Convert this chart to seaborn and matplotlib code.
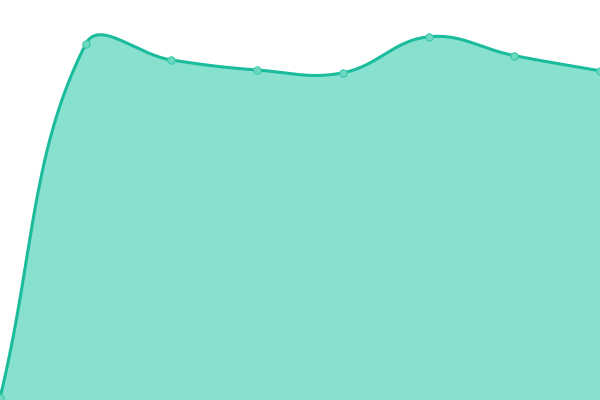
import numpy as np
import pandas as pd
import matplotlib
matplotlib.use("Agg")
import matplotlib.pyplot as plt
import seaborn as sns

labels = ["A", "B", "C", "D", "E", "F", "G", "H"]
values = [0.5, 89, 85, 82.5, 81.8, 90.8, 86.1, 82.3]

line_color = "#1abc9c"
fill_color = "#88e0cf"
point_color = "#6fd8c3"

sns.set_style("white")
fig = plt.figure(figsize=(6, 4), dpi=100)
ax = fig.add_axes([0, 0, 1, 1])
ax.set_xlim(0, len(values) - 1)
ax.set_ylim(0, 100)
ax.axis("off")

x = np.arange(len(values), dtype=float)
y = np.array(values, dtype=float)

# chart.js style spline (tension 0.4), computed in pixel space
pts = ax.transData.transform(np.column_stack([x, y]))
n = len(pts)
tension = 0.4
cp_prev = pts.copy()
cp_next = pts.copy()
for i in range(n):
    prev = pts[max(i - 1, 0)]
    cur = pts[i]
    nxt = pts[min(i + 1, n - 1)]
    d01 = np.hypot(*(cur - prev))
    d12 = np.hypot(*(nxt - cur))
    s = d01 + d12
    fa = tension * d01 / s if s else 0
    fb = tension * d12 / s if s else 0
    cp_prev[i] = cur - fa * (nxt - prev)
    cp_next[i] = cur + fb * (nxt - prev)

t = np.linspace(0, 1, 60)[:, None]
curve = []
for i in range(n - 1):
    p0, p1, p2, p3 = pts[i], cp_next[i], cp_prev[i + 1], pts[i + 1]
    seg = ((1 - t) ** 3) * p0 + 3 * ((1 - t) ** 2) * t * p1 + 3 * (1 - t) * t ** 2 * p2 + t ** 3 * p3
    curve.append(seg if i == 0 else seg[1:])
curve = ax.transData.inverted().transform(np.vstack(curve))
smooth = pd.DataFrame({"x": curve[:, 0], "y": curve[:, 1]})

ax.fill_between(smooth["x"], smooth["y"], 0, color=fill_color, linewidth=0)
sns.lineplot(data=smooth, x="x", y="y", ax=ax, color=line_color, linewidth=2.2,
             sort=False, estimator=None)
df = pd.DataFrame({"label": labels, "x": x, "value": y})
sns.scatterplot(data=df, x="x", y="value", ax=ax, s=28, color=point_color,
                edgecolor="#3cc9ab", linewidth=0.8, zorder=5)
ax.set_xlim(0, len(values) - 1)
ax.set_ylim(0, 100)
ax.axis("off")

fig.savefig("out.png", dpi=100)
